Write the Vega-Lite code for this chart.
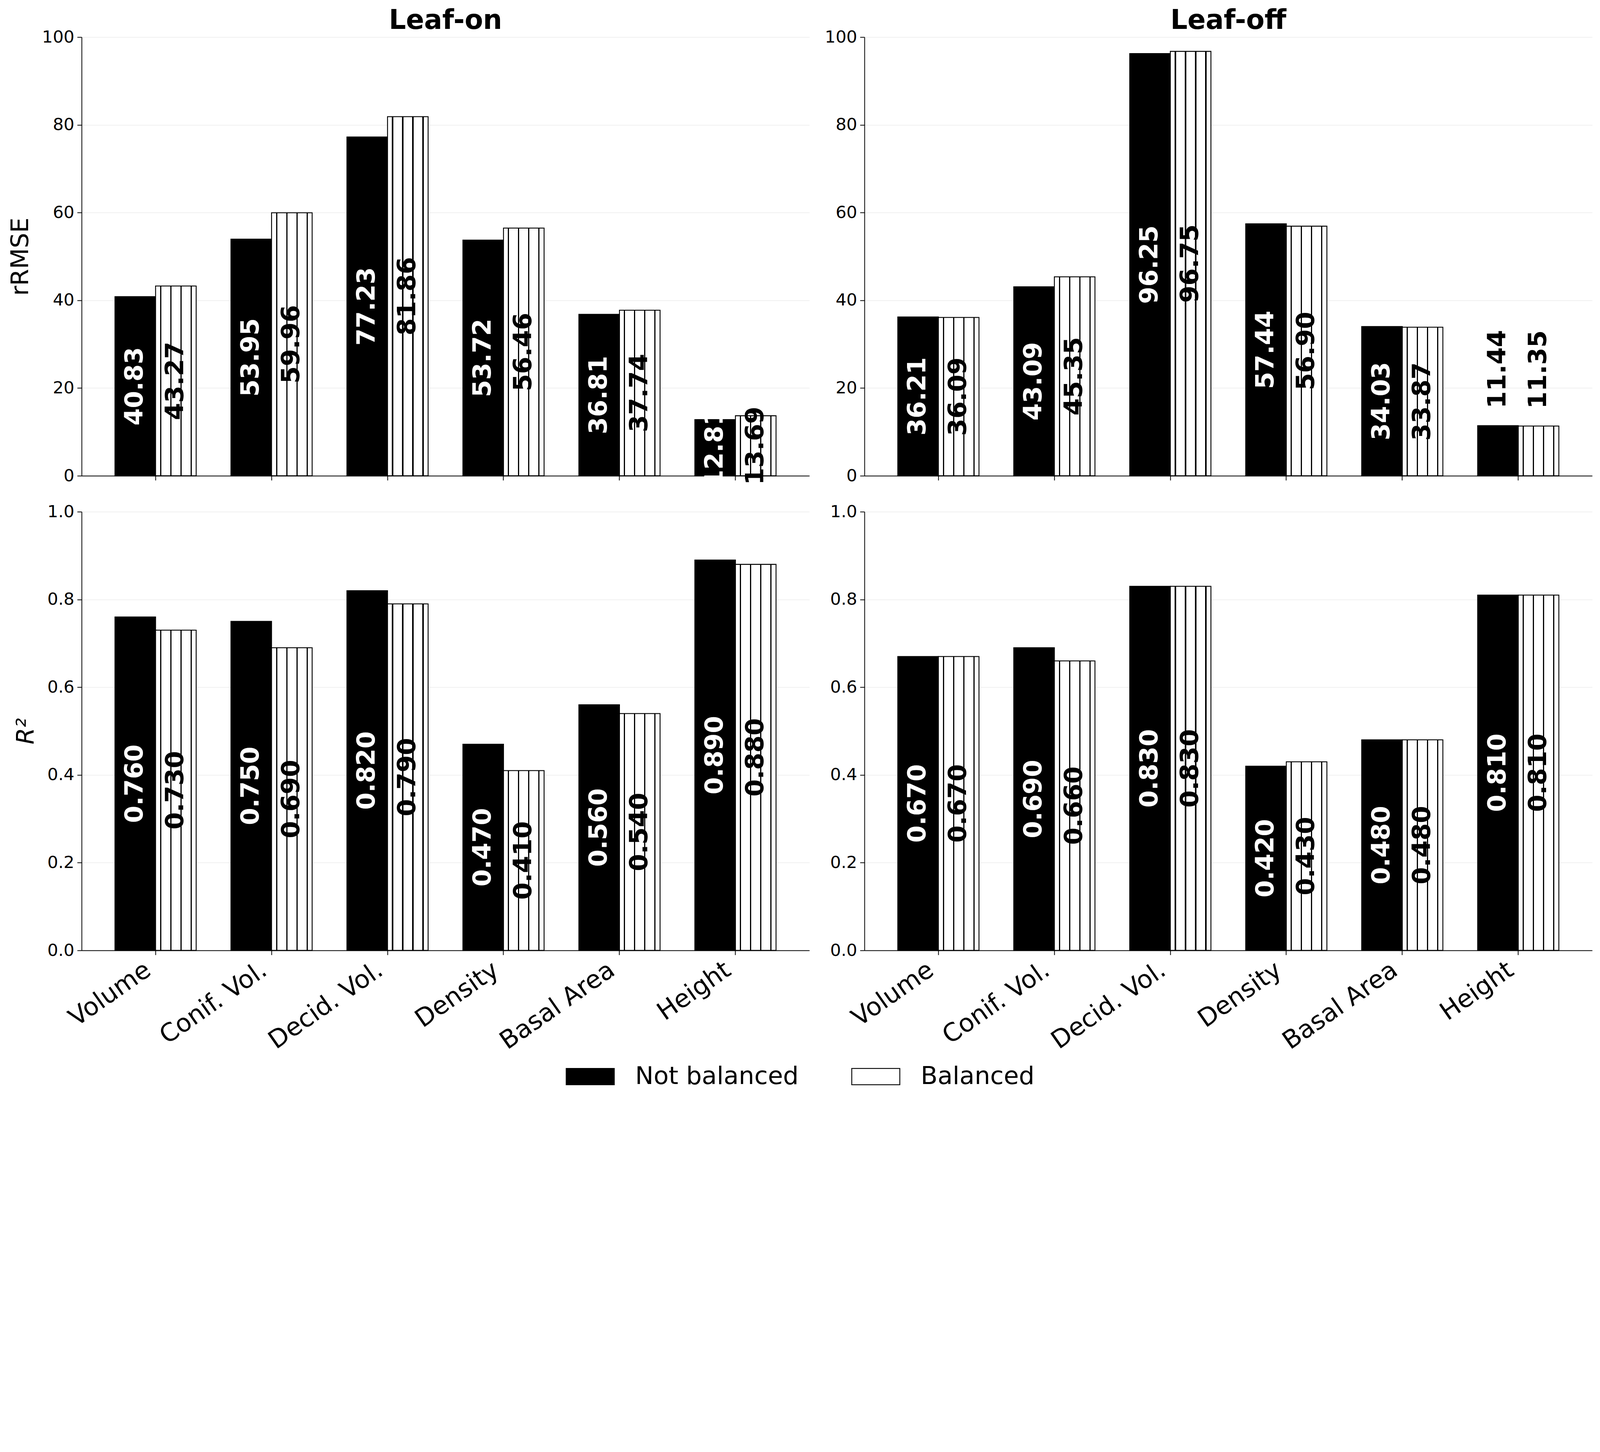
{
  "$schema": "https://vega.github.io/schema/vega-lite/v6.json",
  "autosize": {"type": "pad"},
  "padding": {"left": 22, "top": 18, "right": 23, "bottom": 20},
  "background": "white",
  "bounds": "flush",
  "columns": 2,
  "spacing": {"row": 92, "column": 141},
  "data": {
    "values": [
      {"season": "Leaf-on", "metric": "rRMSE", "variable": "Volume", "group": "Not balanced", "value": 40.83},
      {"season": "Leaf-on", "metric": "rRMSE", "variable": "Volume", "group": "Balanced", "value": 43.27},
      {"season": "Leaf-on", "metric": "rRMSE", "variable": "Conif. Vol.", "group": "Not balanced", "value": 53.95},
      {"season": "Leaf-on", "metric": "rRMSE", "variable": "Conif. Vol.", "group": "Balanced", "value": 59.96},
      {"season": "Leaf-on", "metric": "rRMSE", "variable": "Decid. Vol.", "group": "Not balanced", "value": 77.23},
      {"season": "Leaf-on", "metric": "rRMSE", "variable": "Decid. Vol.", "group": "Balanced", "value": 81.86},
      {"season": "Leaf-on", "metric": "rRMSE", "variable": "Density", "group": "Not balanced", "value": 53.72},
      {"season": "Leaf-on", "metric": "rRMSE", "variable": "Density", "group": "Balanced", "value": 56.46},
      {"season": "Leaf-on", "metric": "rRMSE", "variable": "Basal Area", "group": "Not balanced", "value": 36.81},
      {"season": "Leaf-on", "metric": "rRMSE", "variable": "Basal Area", "group": "Balanced", "value": 37.74},
      {"season": "Leaf-on", "metric": "rRMSE", "variable": "Height", "group": "Not balanced", "value": 12.81},
      {"season": "Leaf-on", "metric": "rRMSE", "variable": "Height", "group": "Balanced", "value": 13.69},
      {"season": "Leaf-off", "metric": "rRMSE", "variable": "Volume", "group": "Not balanced", "value": 36.21},
      {"season": "Leaf-off", "metric": "rRMSE", "variable": "Volume", "group": "Balanced", "value": 36.09},
      {"season": "Leaf-off", "metric": "rRMSE", "variable": "Conif. Vol.", "group": "Not balanced", "value": 43.09},
      {"season": "Leaf-off", "metric": "rRMSE", "variable": "Conif. Vol.", "group": "Balanced", "value": 45.35},
      {"season": "Leaf-off", "metric": "rRMSE", "variable": "Decid. Vol.", "group": "Not balanced", "value": 96.25},
      {"season": "Leaf-off", "metric": "rRMSE", "variable": "Decid. Vol.", "group": "Balanced", "value": 96.75},
      {"season": "Leaf-off", "metric": "rRMSE", "variable": "Density", "group": "Not balanced", "value": 57.44},
      {"season": "Leaf-off", "metric": "rRMSE", "variable": "Density", "group": "Balanced", "value": 56.90},
      {"season": "Leaf-off", "metric": "rRMSE", "variable": "Basal Area", "group": "Not balanced", "value": 34.03},
      {"season": "Leaf-off", "metric": "rRMSE", "variable": "Basal Area", "group": "Balanced", "value": 33.87},
      {"season": "Leaf-off", "metric": "rRMSE", "variable": "Height", "group": "Not balanced", "value": 11.44},
      {"season": "Leaf-off", "metric": "rRMSE", "variable": "Height", "group": "Balanced", "value": 11.35},
      {"season": "Leaf-on", "metric": "R2", "variable": "Volume", "group": "Not balanced", "value": 0.76},
      {"season": "Leaf-on", "metric": "R2", "variable": "Volume", "group": "Balanced", "value": 0.73},
      {"season": "Leaf-on", "metric": "R2", "variable": "Conif. Vol.", "group": "Not balanced", "value": 0.75},
      {"season": "Leaf-on", "metric": "R2", "variable": "Conif. Vol.", "group": "Balanced", "value": 0.69},
      {"season": "Leaf-on", "metric": "R2", "variable": "Decid. Vol.", "group": "Not balanced", "value": 0.82},
      {"season": "Leaf-on", "metric": "R2", "variable": "Decid. Vol.", "group": "Balanced", "value": 0.79},
      {"season": "Leaf-on", "metric": "R2", "variable": "Density", "group": "Not balanced", "value": 0.47},
      {"season": "Leaf-on", "metric": "R2", "variable": "Density", "group": "Balanced", "value": 0.41},
      {"season": "Leaf-on", "metric": "R2", "variable": "Basal Area", "group": "Not balanced", "value": 0.56},
      {"season": "Leaf-on", "metric": "R2", "variable": "Basal Area", "group": "Balanced", "value": 0.54},
      {"season": "Leaf-on", "metric": "R2", "variable": "Height", "group": "Not balanced", "value": 0.89},
      {"season": "Leaf-on", "metric": "R2", "variable": "Height", "group": "Balanced", "value": 0.88},
      {"season": "Leaf-off", "metric": "R2", "variable": "Volume", "group": "Not balanced", "value": 0.67},
      {"season": "Leaf-off", "metric": "R2", "variable": "Volume", "group": "Balanced", "value": 0.67},
      {"season": "Leaf-off", "metric": "R2", "variable": "Conif. Vol.", "group": "Not balanced", "value": 0.69},
      {"season": "Leaf-off", "metric": "R2", "variable": "Conif. Vol.", "group": "Balanced", "value": 0.66},
      {"season": "Leaf-off", "metric": "R2", "variable": "Decid. Vol.", "group": "Not balanced", "value": 0.83},
      {"season": "Leaf-off", "metric": "R2", "variable": "Decid. Vol.", "group": "Balanced", "value": 0.83},
      {"season": "Leaf-off", "metric": "R2", "variable": "Density", "group": "Not balanced", "value": 0.42},
      {"season": "Leaf-off", "metric": "R2", "variable": "Density", "group": "Balanced", "value": 0.43},
      {"season": "Leaf-off", "metric": "R2", "variable": "Basal Area", "group": "Not balanced", "value": 0.48},
      {"season": "Leaf-off", "metric": "R2", "variable": "Basal Area", "group": "Balanced", "value": 0.48},
      {"season": "Leaf-off", "metric": "R2", "variable": "Height", "group": "Not balanced", "value": 0.81},
      {"season": "Leaf-off", "metric": "R2", "variable": "Height", "group": "Balanced", "value": 0.81}
    ]
  },
  "concat": [
    {
      "width": 1863,
      "height": 1123,
      "title": {"text": "Leaf-on"},
      "transform": [{"filter": "datum.season == 'Leaf-on' && datum.metric == 'rRMSE'"}],
      "encoding": {
        "x": {"field": "variable", "type": "nominal",
          "sort": ["Volume", "Conif. Vol.", "Decid. Vol.", "Density", "Basal Area", "Height"],
          "scale": {"paddingInner": 0.3, "paddingOuter": 0.2875},
          "axis": {"title": null, "labels": false}},
        "xOffset": {"field": "group", "sort": ["Not balanced", "Balanced"], "scale": {"paddingInner": 0, "paddingOuter": 0}}
      },
      "layer": [
        {
          "mark": {"type": "bar", "stroke": "black", "strokeWidth": 2.3},
          "encoding": {
            "y": {"field": "value", "type": "quantitative", "scale": {"domain": [0, 100]},
              "axis": {"title": "rRMSE", "values": [0, 20, 40, 60, 80, 100]}},
            "color": {
              "condition": {"test": "datum.group == 'Balanced'",
                "value": {"gradient": "linear", "x1": 0, "y1": 0, "x2": 1, "y2": 0,
                  "stops": [
                    {"offset": 0, "color": "white"}, {"offset": 0.11, "color": "white"},
                    {"offset": 0.11, "color": "black"}, {"offset": 0.14, "color": "black"},
                    {"offset": 0.14, "color": "white"}, {"offset": 0.36, "color": "white"},
                    {"offset": 0.36, "color": "black"}, {"offset": 0.39, "color": "black"},
                    {"offset": 0.39, "color": "white"}, {"offset": 0.61, "color": "white"},
                    {"offset": 0.61, "color": "black"}, {"offset": 0.64, "color": "black"},
                    {"offset": 0.64, "color": "white"}, {"offset": 0.86, "color": "white"},
                    {"offset": 0.86, "color": "black"}, {"offset": 0.89, "color": "black"},
                    {"offset": 0.89, "color": "white"}, {"offset": 1, "color": "white"}
                  ]}},
              "field": "group", "type": "nominal",
              "scale": {"domain": ["Not balanced", "Balanced"], "range": ["black", "white"]}}
          }
        },
        {
          "transform": [{"filter": "datum.value >= 12"}],
          "mark": {"type": "text", "angle": 270, "align": "center", "baseline": "middle", "fontSize": 63.5, "fontWeight": "bold"},
          "encoding": {
            "y": {"field": "value", "type": "quantitative", "scale": {"domain": [0, 200]}, "axis": null},
            "text": {"field": "value", "type": "quantitative", "format": ".2f"},
            "color": {"condition": {"test": "datum.group == 'Balanced'", "value": "black"}, "value": "white"}
          }
        },
        {
          "transform": [{"filter": "datum.value < 12"}],
          "mark": {"type": "text", "angle": 270, "align": "left", "baseline": "middle", "dx": 44, "fontSize": 63.5, "fontWeight": "bold", "color": "black"},
          "encoding": {
            "y": {"field": "value", "type": "quantitative", "scale": {"domain": [0, 100]}, "axis": null},
            "text": {"field": "value", "type": "quantitative", "format": ".2f"}
          }
        }
      ],
      "resolve": {"scale": {"y": "independent"}}
    },
    {
      "width": 1863,
      "height": 1123,
      "title": {"text": "Leaf-off"},
      "transform": [{"filter": "datum.season == 'Leaf-off' && datum.metric == 'rRMSE'"}],
      "encoding": {
        "x": {"field": "variable", "type": "nominal",
          "sort": ["Volume", "Conif. Vol.", "Decid. Vol.", "Density", "Basal Area", "Height"],
          "scale": {"paddingInner": 0.3, "paddingOuter": 0.2875},
          "axis": {"title": null, "labels": false}},
        "xOffset": {"field": "group", "sort": ["Not balanced", "Balanced"], "scale": {"paddingInner": 0, "paddingOuter": 0}}
      },
      "layer": [
        {
          "mark": {"type": "bar", "stroke": "black", "strokeWidth": 2.3},
          "encoding": {
            "y": {"field": "value", "type": "quantitative", "scale": {"domain": [0, 100]},
              "axis": {"title": null, "values": [0, 20, 40, 60, 80, 100]}},
            "color": {
              "condition": {"test": "datum.group == 'Balanced'",
                "value": {"gradient": "linear", "x1": 0, "y1": 0, "x2": 1, "y2": 0,
                  "stops": [
                    {"offset": 0, "color": "white"}, {"offset": 0.11, "color": "white"},
                    {"offset": 0.11, "color": "black"}, {"offset": 0.14, "color": "black"},
                    {"offset": 0.14, "color": "white"}, {"offset": 0.36, "color": "white"},
                    {"offset": 0.36, "color": "black"}, {"offset": 0.39, "color": "black"},
                    {"offset": 0.39, "color": "white"}, {"offset": 0.61, "color": "white"},
                    {"offset": 0.61, "color": "black"}, {"offset": 0.64, "color": "black"},
                    {"offset": 0.64, "color": "white"}, {"offset": 0.86, "color": "white"},
                    {"offset": 0.86, "color": "black"}, {"offset": 0.89, "color": "black"},
                    {"offset": 0.89, "color": "white"}, {"offset": 1, "color": "white"}
                  ]}},
              "field": "group", "type": "nominal",
              "scale": {"domain": ["Not balanced", "Balanced"], "range": ["black", "white"]}}
          }
        },
        {
          "transform": [{"filter": "datum.value >= 12"}],
          "mark": {"type": "text", "angle": 270, "align": "center", "baseline": "middle", "fontSize": 63.5, "fontWeight": "bold"},
          "encoding": {
            "y": {"field": "value", "type": "quantitative", "scale": {"domain": [0, 200]}, "axis": null},
            "text": {"field": "value", "type": "quantitative", "format": ".2f"},
            "color": {"condition": {"test": "datum.group == 'Balanced'", "value": "black"}, "value": "white"}
          }
        },
        {
          "transform": [{"filter": "datum.value < 12"}],
          "mark": {"type": "text", "angle": 270, "align": "left", "baseline": "middle", "dx": 44, "fontSize": 63.5, "fontWeight": "bold", "color": "black"},
          "encoding": {
            "y": {"field": "value", "type": "quantitative", "scale": {"domain": [0, 100]}, "axis": null},
            "text": {"field": "value", "type": "quantitative", "format": ".2f"}
          }
        }
      ],
      "resolve": {"scale": {"y": "independent"}}
    },
    {
      "width": 1863,
      "height": 1123,
      "transform": [{"filter": "datum.season == 'Leaf-on' && datum.metric == 'R2'"}],
      "encoding": {
        "x": {"field": "variable", "type": "nominal",
          "sort": ["Volume", "Conif. Vol.", "Decid. Vol.", "Density", "Basal Area", "Height"],
          "scale": {"paddingInner": 0.3, "paddingOuter": 0.2875},
          "axis": {"title": null, "labelAngle": -35, "labelAlign": "right", "labelBaseline": "top", "labelFontSize": 64, "labelPadding": 6, "labelOffset": -37, "labelLimit": 0}},
        "xOffset": {"field": "group", "sort": ["Not balanced", "Balanced"], "scale": {"paddingInner": 0, "paddingOuter": 0}}
      },
      "layer": [
        {
          "mark": {"type": "bar", "stroke": "black", "strokeWidth": 2.3},
          "encoding": {
            "y": {"field": "value", "type": "quantitative", "scale": {"domain": [0, 1]},
              "axis": {"title": "R²", "titleFontStyle": "italic", "format": ".1f", "values": [0, 0.2, 0.4, 0.6, 0.8, 1]}},
            "color": {
              "condition": {"test": "datum.group == 'Balanced'",
                "value": {"gradient": "linear", "x1": 0, "y1": 0, "x2": 1, "y2": 0,
                  "stops": [
                    {"offset": 0, "color": "white"}, {"offset": 0.11, "color": "white"},
                    {"offset": 0.11, "color": "black"}, {"offset": 0.14, "color": "black"},
                    {"offset": 0.14, "color": "white"}, {"offset": 0.36, "color": "white"},
                    {"offset": 0.36, "color": "black"}, {"offset": 0.39, "color": "black"},
                    {"offset": 0.39, "color": "white"}, {"offset": 0.61, "color": "white"},
                    {"offset": 0.61, "color": "black"}, {"offset": 0.64, "color": "black"},
                    {"offset": 0.64, "color": "white"}, {"offset": 0.86, "color": "white"},
                    {"offset": 0.86, "color": "black"}, {"offset": 0.89, "color": "black"},
                    {"offset": 0.89, "color": "white"}, {"offset": 1, "color": "white"}
                  ]}},
              "field": "group", "type": "nominal",
              "scale": {"domain": ["Not balanced", "Balanced"], "range": ["black", "white"]}}
          }
        },
        {
          "mark": {"type": "text", "angle": 270, "align": "center", "baseline": "middle", "fontSize": 63.5, "fontWeight": "bold"},
          "encoding": {
            "y": {"field": "value", "type": "quantitative", "scale": {"domain": [0, 2]}, "axis": null},
            "text": {"field": "value", "type": "quantitative", "format": ".3f"},
            "color": {"condition": {"test": "datum.group == 'Balanced'", "value": "black"}, "value": "white"}
          }
        }
      ],
      "resolve": {"scale": {"y": "independent"}}
    },
    {
      "width": 1863,
      "height": 1123,
      "transform": [{"filter": "datum.season == 'Leaf-off' && datum.metric == 'R2'"}],
      "encoding": {
        "x": {"field": "variable", "type": "nominal",
          "sort": ["Volume", "Conif. Vol.", "Decid. Vol.", "Density", "Basal Area", "Height"],
          "scale": {"paddingInner": 0.3, "paddingOuter": 0.2875},
          "axis": {"title": null, "labelAngle": -35, "labelAlign": "right", "labelBaseline": "top", "labelFontSize": 64, "labelPadding": 6, "labelOffset": -37, "labelLimit": 0}},
        "xOffset": {"field": "group", "sort": ["Not balanced", "Balanced"], "scale": {"paddingInner": 0, "paddingOuter": 0}}
      },
      "layer": [
        {
          "mark": {"type": "bar", "stroke": "black", "strokeWidth": 2.3},
          "encoding": {
            "y": {"field": "value", "type": "quantitative", "scale": {"domain": [0, 1]},
              "axis": {"title": null, "format": ".1f", "values": [0, 0.2, 0.4, 0.6, 0.8, 1]}},
            "color": {
              "condition": {"test": "datum.group == 'Balanced'",
                "value": {"gradient": "linear", "x1": 0, "y1": 0, "x2": 1, "y2": 0,
                  "stops": [
                    {"offset": 0, "color": "white"}, {"offset": 0.11, "color": "white"},
                    {"offset": 0.11, "color": "black"}, {"offset": 0.14, "color": "black"},
                    {"offset": 0.14, "color": "white"}, {"offset": 0.36, "color": "white"},
                    {"offset": 0.36, "color": "black"}, {"offset": 0.39, "color": "black"},
                    {"offset": 0.39, "color": "white"}, {"offset": 0.61, "color": "white"},
                    {"offset": 0.61, "color": "black"}, {"offset": 0.64, "color": "black"},
                    {"offset": 0.64, "color": "white"}, {"offset": 0.86, "color": "white"},
                    {"offset": 0.86, "color": "black"}, {"offset": 0.89, "color": "black"},
                    {"offset": 0.89, "color": "white"}, {"offset": 1, "color": "white"}
                  ]}},
              "field": "group", "type": "nominal",
              "scale": {"domain": ["Not balanced", "Balanced"], "range": ["black", "white"]}}
          }
        },
        {
          "mark": {"type": "text", "angle": 270, "align": "center", "baseline": "middle", "fontSize": 63.5, "fontWeight": "bold"},
          "encoding": {
            "y": {"field": "value", "type": "quantitative", "scale": {"domain": [0, 2]}, "axis": null},
            "text": {"field": "value", "type": "quantitative", "format": ".3f"},
            "color": {"condition": {"test": "datum.group == 'Balanced'", "value": "black"}, "value": "white"}
          }
        }
      ],
      "resolve": {"scale": {"y": "independent"}}
    }
  ],
  "resolve": {"scale": {"color": "shared"}, "legend": {"color": "shared"}},
  "config": {
    "font": "DejaVu Sans",
    "view": {"stroke": null},
    "axis": {
      "labelFontSize": 43.5,
      "labelColor": "black",
      "labelPadding": 7.6,
      "tickSize": 11.4,
      "tickWidth": 2,
      "tickColor": "black",
      "domainColor": "black",
      "domainWidth": 2,
      "titleFontSize": 61.8,
      "titleFontWeight": "normal",
      "titleColor": "black",
      "titlePadding": 22.5
    },
    "axisX": {"grid": false},
    "axisY": {"grid": true, "gridColor": "#ebebeb", "gridWidth": 1.5},
    "title": {"fontSize": 68.7, "fontWeight": "bold", "color": "black", "anchor": "middle", "offset": -15.3},
    "legend": {
      "orient": "none",
      "legendX": 1239,
      "legendY": 2598,
      "direction": "horizontal",
      "title": null,
      "padding": 0,
      "symbolType": "M-1,-0.34H1V0.34H-1Z",
      "symbolSize": 15129,
      "symbolStrokeColor": "black",
      "symbolStrokeWidth": 2.3,
      "symbolOpacity": 1,
      "labelFontSize": 63,
      "labelColor": "black",
      "labelLimit": 0,
      "labelOffset": 52,
      "columnPadding": 130
    }
  }
}
